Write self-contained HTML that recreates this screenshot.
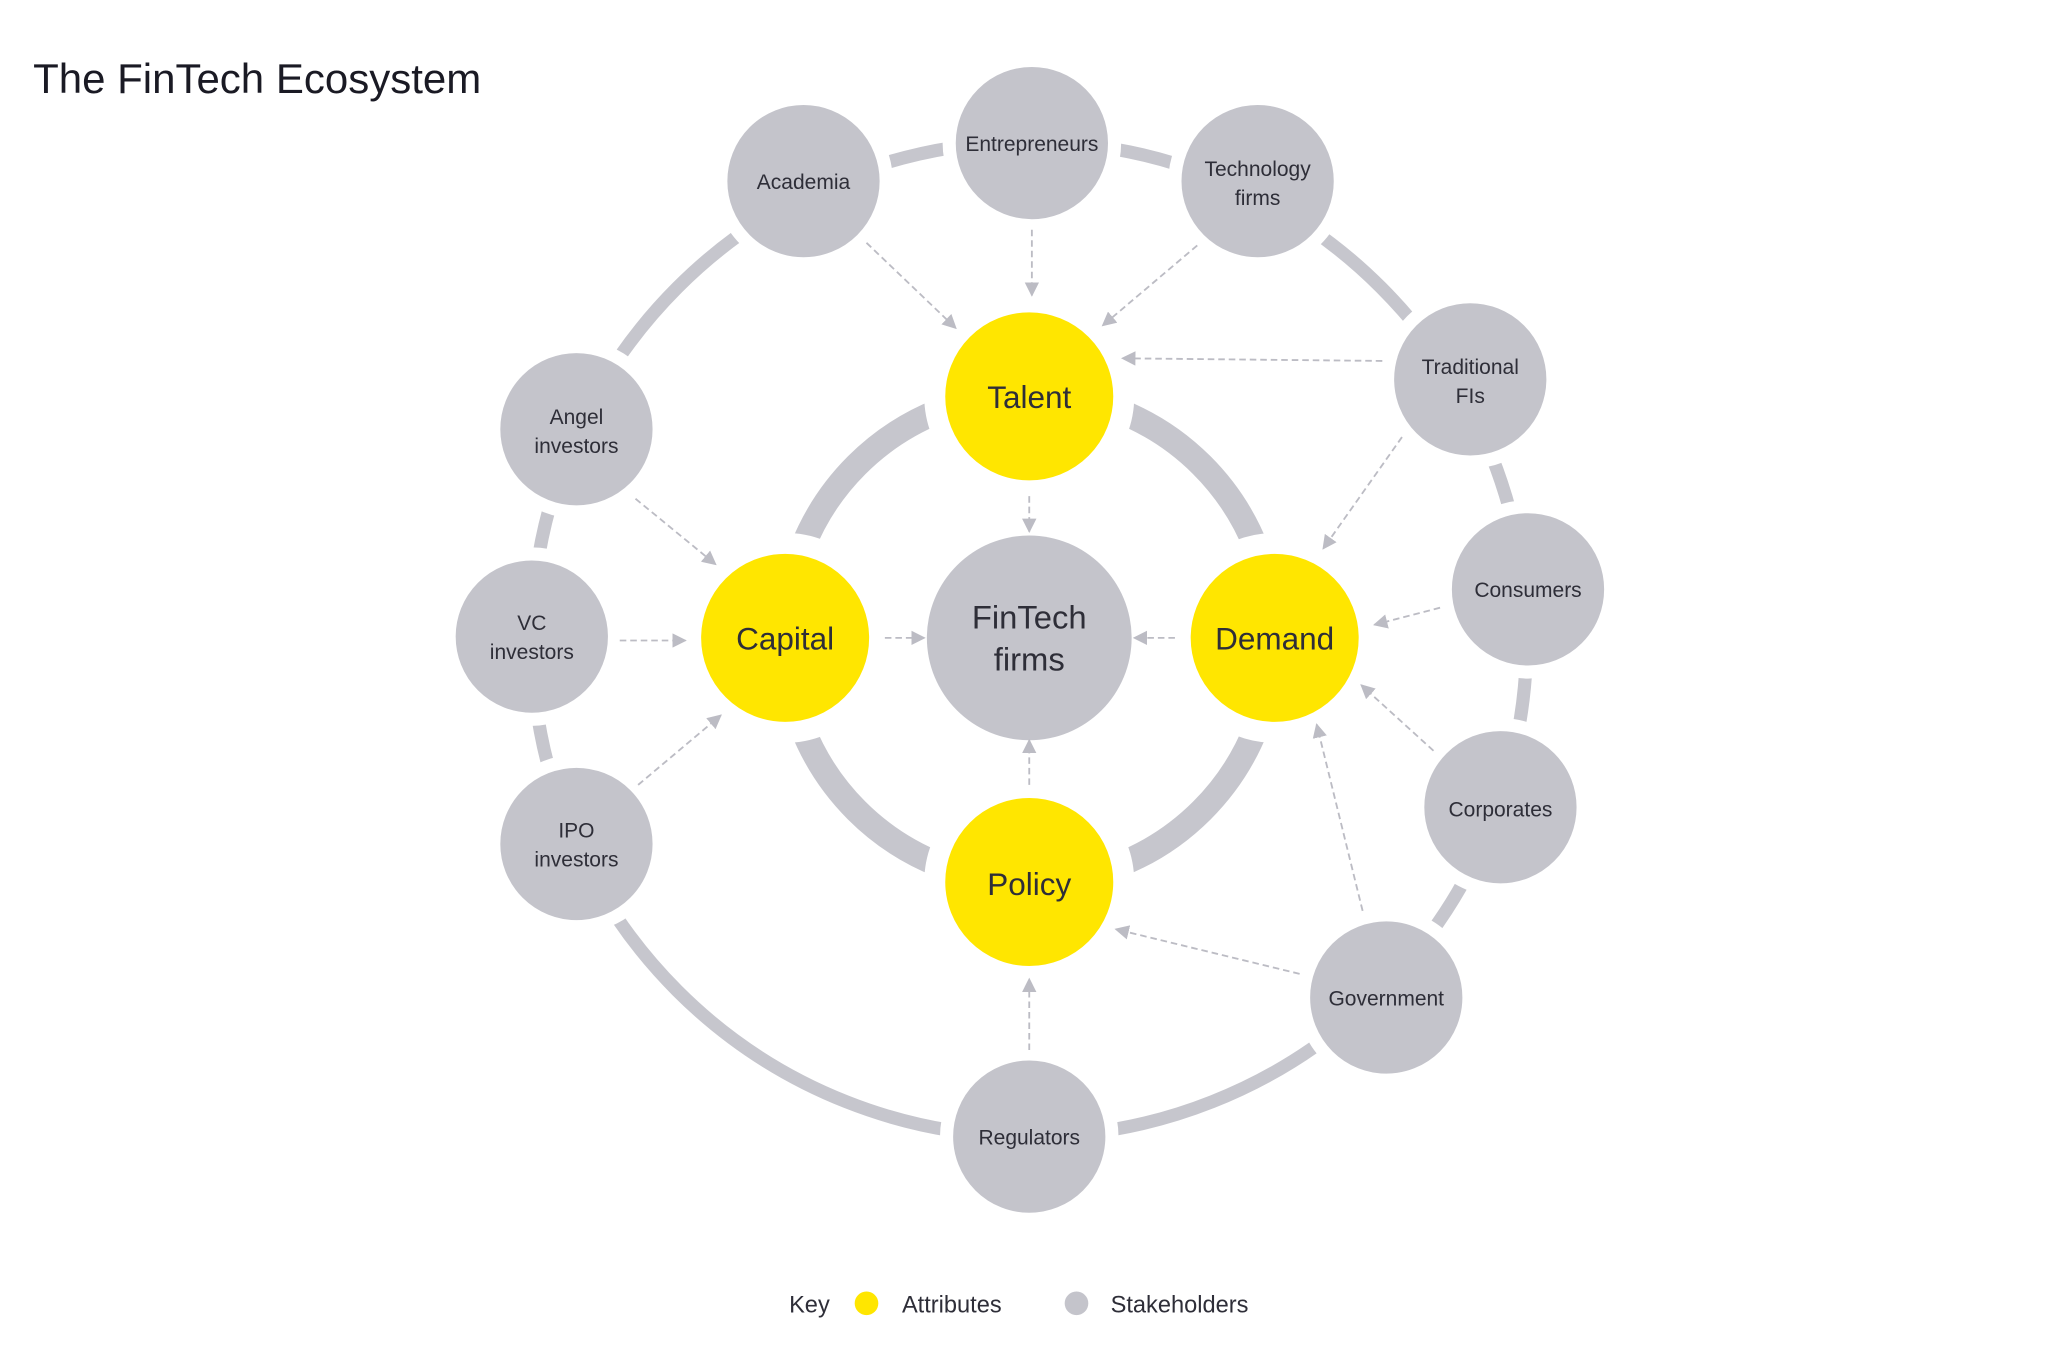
<!DOCTYPE html>
<html><head><meta charset="utf-8"><style>
html,body{margin:0;padding:0;background:#fff;}
svg{display:block;}
text{font-family:"Liberation Sans",sans-serif;fill:#2e2e38;text-anchor:middle;}
</style></head><body>
<svg width="2048" height="1365" viewBox="0 0 1560 1040" xmlns="http://www.w3.org/2000/svg">
<defs>
<marker id="ah" viewBox="0 0 10 10" refX="9" refY="5" markerUnits="userSpaceOnUse" markerWidth="11" markerHeight="11" orient="auto"><path d="M0,0 L10,5 L0,10 z" fill="#bcbcc4"/></marker>
</defs>
<rect width="1560" height="1040" fill="#fff"/>
<text x="25" y="71" style="text-anchor:start;font-size:32px;fill:#1a1a24">The FinTech Ecosystem</text>
<circle cx="784" cy="487" r="379" fill="none" stroke="#c6c6cd" stroke-width="10"/>
<circle cx="784" cy="486" r="186" fill="none" stroke="#c6c6cd" stroke-width="19"/>
<g fill="#c4c4cb" stroke="#fff" stroke-width="10">
<circle cx="612" cy="138" r="63"/><circle cx="786" cy="109" r="63"/><circle cx="958" cy="138" r="63"/>
<circle cx="1120" cy="289" r="63"/><circle cx="1164" cy="449" r="63"/><circle cx="1143" cy="615" r="63"/>
<circle cx="1056" cy="760" r="63"/><circle cx="784" cy="866" r="63"/><circle cx="439" cy="643" r="63"/>
<circle cx="405" cy="485" r="63"/><circle cx="439" cy="327" r="63"/>
<circle cx="784" cy="486" r="78" stroke="none"/>
</g>
<g fill="#ffe600" stroke="#fff" stroke-width="16">
<circle cx="784" cy="302" r="72"/><circle cx="598" cy="486" r="72"/><circle cx="971" cy="486" r="72"/><circle cx="784" cy="672" r="72"/>
</g>
<g stroke="#bcbcc4" stroke-width="1.4" stroke-dasharray="5,3" fill="none" marker-end="url(#ah)">
<line x1="660" y1="185" x2="728" y2="250"/>
<line x1="786" y1="175" x2="786" y2="225"/>
<line x1="912" y1="187" x2="840" y2="248"/>
<line x1="1053" y1="275" x2="855" y2="273"/>
<line x1="1068" y1="333" x2="1008" y2="418"/>
<line x1="1097" y1="463" x2="1047" y2="476"/>
<line x1="1092" y1="572" x2="1037" y2="522"/>
<line x1="1038" y1="694" x2="1003" y2="552"/>
<line x1="990" y1="742" x2="850" y2="708"/>
<line x1="784" y1="800" x2="784" y2="746"/>
<line x1="784" y1="378" x2="784" y2="405"/>
<line x1="674" y1="486" x2="704" y2="486"/>
<line x1="895" y1="486" x2="864" y2="486"/>
<line x1="784" y1="598" x2="784" y2="564"/>
<line x1="484" y1="380" x2="545" y2="430"/>
<line x1="472" y1="488" x2="522" y2="488"/>
<line x1="486" y1="598" x2="549" y2="545"/>
</g>
<g style="font-size:16px">
<text x="612" y="144">Academia</text>
<text x="786" y="115">Entrepreneurs</text>
<text x="958" y="134">Technology</text><text x="958" y="156">firms</text>
<text x="1120" y="285">Traditional</text><text x="1120" y="307">FIs</text>
<text x="1164" y="455">Consumers</text>
<text x="1143" y="622">Corporates</text>
<text x="1056" y="766">Government</text>
<text x="784" y="872">Regulators</text>
<text x="439" y="638">IPO</text><text x="439" y="660">investors</text>
<text x="405" y="480">VC</text><text x="405" y="502">investors</text>
<text x="439" y="323">Angel</text><text x="439" y="345">investors</text>
</g>
<g style="font-size:24px;fill:#111">
<text x="784" y="311">Talent</text>
<text x="598" y="495">Capital</text>
<text x="971" y="495">Demand</text>
<text x="784" y="682">Policy</text>
</g>
<text x="784" y="479" style="font-size:25px">FinTech</text>
<text x="784" y="511" style="font-size:25px">firms</text>
<g style="font-size:18px">
<text x="601" y="1000" style="text-anchor:start">Key</text>
<circle cx="660" cy="993" r="9" fill="#ffe600"/>
<text x="687" y="1000" style="text-anchor:start">Attributes</text>
<circle cx="820" cy="993" r="9" fill="#c4c4cb"/>
<text x="846" y="1000" style="text-anchor:start">Stakeholders</text>
</g>
</svg>
</body></html>
